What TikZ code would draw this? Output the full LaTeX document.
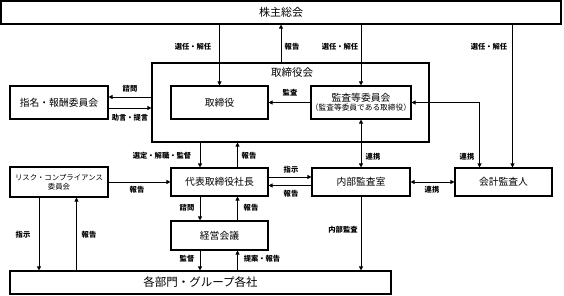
\documentclass[tikz,border=0pt]{standalone}
\usepackage{fontspec}
\setmainfont{Noto Sans CJK JP}
\usetikzlibrary{arrows.meta}

\begin{document}
\begin{tikzpicture}[x=1pt,y=-1pt,
  box/.style={draw, line width=1.1pt, inner sep=0pt, align=center, font=\fontsize{9.8}{11}\selectfont},
  lbl/.style={inner sep=0pt, font=\fontsize{7.3}{8}\selectfont\bfseries},
  conn/.style={line width=0.9pt, -{Triangle[length=4pt,width=4pt]}},
  bothway/.style={line width=0.9pt, {Triangle[length=4pt,width=4pt]}-{Triangle[length=4pt,width=4pt]}}]
  \useasboundingbox (0,0) rectangle (564,296);

  % Boxes
  \node[box, minimum width=560pt, minimum height=23pt, font=\fontsize{11}{13}\selectfont] (share) at (281,12.5) {株主総会};
  \node[box, minimum width=277pt, minimum height=79pt] (board) at (290.5,102.5) {};
  \node[inner sep=0pt, font=\fontsize{10.5}{12}\selectfont] (boardlbl) at (292,73) {取締役会};
  \node[box, minimum width=97pt, minimum height=33pt] (dir) at (219.5,102.5) {取締役};
  \node[box, minimum width=98pt, minimum height=33pt] (audit) at (361,102.5) {監査等委員会\\[-2pt]{\fontsize{7.7}{8}\selectfont （監査等委員である取締役）}};
  \node[box, minimum width=98pt, minimum height=33pt] (nom) at (59,102.5) {指名・報酬委員会};
  \node[box, minimum width=98pt, minimum height=30pt, font=\fontsize{7.4}{9.5}\selectfont] (risk) at (59,182) {リスク・コンプライアンス\\委員会};
  \node[box, minimum width=97pt, minimum height=28pt] (ceo) at (219.5,182) {代表取締役社長};
  \node[box, minimum width=98pt, minimum height=28pt] (ia) at (361,182) {内部監査室};
  \node[box, minimum width=97pt, minimum height=28pt] (ext) at (503.5,182) {会計監査人};
  \node[box, minimum width=97pt, minimum height=29pt] (mgmt) at (219.5,235.5) {経営会議};
  \node[box, minimum width=381pt, minimum height=23pt, font=\fontsize{11.5}{13}\selectfont] (dept) at (200.5,282.5) {各部門・グループ各社};

  \coordinate (extA) at ([xshift=9pt]ext.north);
  \coordinate (extB) at ([xshift=-24pt]ext.north);
  \coordinate (nomA) at ([yshift=5.5pt]nom.east);
  \coordinate (nomB) at ([yshift=-5.5pt]nom.east);
  \coordinate (ceoA) at ([xshift=-19.5pt]ceo.north);
  \coordinate (ceoB) at ([xshift=18pt]ceo.north);
  \coordinate (ceoC) at ([yshift=5pt]ceo.east);
  \coordinate (ceoD) at ([yshift=-3.5pt]ceo.east);
  \coordinate (riskA) at ([xshift=-20pt]risk.south);
  \coordinate (riskB) at ([xshift=17.5pt]risk.south);

  % Shareholders
  \draw[conn] (share.south -| dir.north) -- (dir.north);
  \draw[conn] (board.north -| share.south) -- (share.south);
  \draw[conn] (share.south -| audit.north) -- (audit.north);
  \draw[conn] (share.south -| extA) -- (extA);

  % Board
  \draw[conn] (audit.west) -- (dir.east);
  \draw[bothway] (audit.east) -| (extB);
  \draw[bothway] (audit.south) -- (ia.north);
  \draw[conn] (board.west |- nomA) -- (nomA);
  \draw[conn] (nomB) -- (board.west |- nomB);

  % President
  \draw[conn] (board.south -| ceoA) -- (ceoA);
  \draw[conn] (ceoB) -- (board.south -| ceoB);
  \draw[conn] (ceoC) -- (ia.west |- ceoC);
  \draw[conn] (ia.west |- ceoD) -- (ceoD);
  \draw[bothway] (ia.east) -- (ext.west);
  \draw[conn] (risk.east) -- (ceo.west);

  % Management meeting and departments
  \draw[conn] (ceo.south -| ceoA) -- (mgmt.north -| ceoA);
  \draw[conn] (mgmt.north -| ceoB) -- (ceo.south -| ceoB);
  \draw[conn] (mgmt.south -| ceoA) -- (dept.north -| ceoA);
  \draw[conn] (dept.north -| ceoB) -- (mgmt.south -| ceoB);
  \draw[conn] (riskA) -- (dept.north -| riskA);
  \draw[conn] (dept.north -| riskB) -- (riskB);
  \draw[conn] (ia.south) -- (ia.south |- dept.north);

  % Labels
  \node[lbl] (selDir) at (193,47) {選任・解任};
  \node[lbl] (repShare) at (292,47) {報告};
  \node[lbl] (selAudit) at (340,47) {選任・解任};
  \node[lbl] (selExt) at (489,47) {選任・解任};
  \node[lbl] (audLbl) at (290,93) {監査};
  \node[lbl] (consNom) at (130,89) {諮問};
  \node[lbl] (advNom) at (130,118) {助言・提言};
  \node[lbl] (supCeo) at (162,156) {選定・解職・監督};
  \node[lbl] (repCeo) at (249,156) {報告};
  \node[lbl] (coopIa) at (373,157) {連携};
  \node[lbl] (coopExt) at (467,157) {連携};
  \node[lbl] (instIa) at (291,170) {指示};
  \node[lbl] (repIa) at (291,194) {報告};
  \node[lbl] (coopIaExt) at (432,190) {連携};
  \node[lbl] (repRisk) at (137,190) {報告};
  \node[lbl] (consMgmt) at (187,208) {諮問};
  \node[lbl] (repMgmt) at (251,208) {報告};
  \node[lbl] (supDept) at (187,259) {監督};
  \node[lbl] (propDept) at (262,259) {提案・報告};
  \node[lbl] (instDept) at (23,235) {指示};
  \node[lbl] (repDept) at (89,235) {報告};
  \node[lbl] (iaAudit) at (343,230) {内部監査};
\end{tikzpicture}
\end{document}
